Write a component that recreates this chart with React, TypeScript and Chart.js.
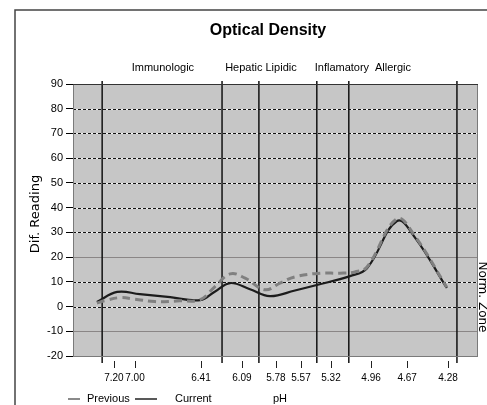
import { useEffect, useRef } from 'react';
import { Chart, registerables } from 'chart.js';
Chart.register(...registerables);

// ---- data ----
const pHLabels = ['7.20', '7.00', '6.41', '6.09', '5.78', '5.57', '5.32', '4.96', '4.67', '4.28'];
const pHPositions = [10.1, 15.3, 31.6, 41.7, 50.1, 56.3, 63.7, 73.6, 82.5, 92.6];
const separatorPositions = [7.2, 36.8, 45.9, 60.2, 68.1, 94.8];
const categoryLabels = ['Immunologic', 'Hepatic Lipidic', 'Inflamatory', 'Allergic'];
const categoryCenters = [22.2, 46.4, 66.4, 79.0];

const currentX = [5.9, 10.9, 16.5, 24.0, 31.4, 35.0, 38.8, 43.7, 48.6, 54.8, 60.2, 68.4, 72.6, 80.0, 84.4, 92.3];
const currentY = [1.8, 5.9, 5.0, 3.8, 2.6, 6.0, 9.5, 7.0, 4.2, 6.5, 8.7, 12.3, 15.5, 34.6, 28.0, 7.5];

const previousX = [5.9, 7.9, 11.6, 15.3, 20.2, 26.4, 31.4, 35.0, 38.8, 42.5, 47.4, 51.1, 54.8, 61.0, 65.9, 69.6, 72.6, 80.0, 84.4, 92.3];
const previousY = [1.4, 2.4, 3.6, 3.0, 2.0, 2.3, 2.8, 8.0, 13.2, 11.5, 6.8, 9.5, 12.0, 13.5, 13.5, 14.0, 16.0, 35.5, 28.5, 7.8];

const yMin = -20;
const yMax = 90;
const yStep = 10;
const dashedGridValues = [80, 70, 60, 50, 40, 30, 10, 0];
const normalZoneValues = [20, -10];

const FONT = "'Liberation Sans', Arial, sans-serif";
const WIDE = "'DejaVu Sans', Verdana, sans-serif";

export default function App() {
  const ref = useRef<HTMLCanvasElement>(null);

  useEffect(() => {
    const canvas = ref.current;
    if (!canvas) return;

    const decor = {
      id: 'decor',
      beforeDatasetsDraw(chart: any) {
        const { ctx, chartArea: a, scales } = chart;
        const x = scales.x;
        const y = scales.y;
        ctx.save();
        ctx.fillStyle = '#c6c6c6';
        ctx.fillRect(a.left, a.top, a.right - a.left, a.bottom - a.top);

        ctx.lineWidth = 1;
        ctx.strokeStyle = '#8a8686';
        normalZoneValues.forEach((v) => {
          const py = Math.round(y.getPixelForValue(v)) + 0.5;
          ctx.beginPath();
          ctx.moveTo(a.left, py);
          ctx.lineTo(a.right, py);
          ctx.stroke();
        });

        dashedGridValues.forEach((v) => {
          const py = Math.round(y.getPixelForValue(v)) + 0.5;
          ctx.setLineDash([]);
          ctx.strokeStyle = '#f2f2f2';
          ctx.beginPath();
          ctx.moveTo(a.left, py);
          ctx.lineTo(a.right, py);
          ctx.stroke();
          ctx.setLineDash([3, 2]);
          ctx.strokeStyle = '#111';
          ctx.beginPath();
          ctx.moveTo(a.left, py);
          ctx.lineTo(a.right, py);
          ctx.stroke();
        });
        ctx.setLineDash([]);

        ctx.strokeStyle = '#111';
        ctx.lineWidth = 1.5;
        separatorPositions.forEach((v) => {
          const px = x.getPixelForValue(v);
          ctx.beginPath();
          ctx.moveTo(px, a.top - 3);
          ctx.lineTo(px, a.bottom + 7);
          ctx.stroke();
        });
        ctx.restore();
      },
      afterDraw(chart: any) {
        const { ctx, chartArea: a, scales } = chart;
        const x = scales.x;
        ctx.save();
        // plot border
        ctx.strokeStyle = '#7a7a7a';
        ctx.lineWidth = 1;
        ctx.strokeRect(a.left + 0.5, a.top + 0.5, a.right - a.left - 1, a.bottom - a.top);
        ctx.strokeStyle = '#333';
        ctx.beginPath();
        ctx.moveTo(a.left, a.top + 0.5);
        ctx.lineTo(a.right, a.top + 0.5);
        ctx.stroke();

        // outer frame
        ctx.strokeStyle = '#444';
        ctx.lineWidth = 1.5;
        ctx.beginPath();
        ctx.moveTo(15, 405);
        ctx.lineTo(15, 10);
        ctx.lineTo(487, 10);
        ctx.stroke();

        // title
        ctx.fillStyle = '#000';
        ctx.textAlign = 'center';
        ctx.textBaseline = 'middle';
        ctx.font = `bold 16px ${FONT}`;
        ctx.fillText('Optical Density', 268, 31);

        // category labels
        ctx.font = `11px ${FONT}`;
        categoryLabels.forEach((t, i) => {
          ctx.fillText(t, x.getPixelForValue(categoryCenters[i]), 68);
        });

        // x tick marks
        ctx.strokeStyle = '#222';
        ctx.lineWidth = 1;
        pHPositions.forEach((v) => {
          const px = Math.round(x.getPixelForValue(v)) + 0.5;
          ctx.beginPath();
          ctx.moveTo(px, a.bottom + 5);
          ctx.lineTo(px, a.bottom + 12);
          ctx.stroke();
        });

        // legend
        const ly = 399;
        ctx.lineWidth = 2;
        ctx.strokeStyle = '#8a8a8a';
        ctx.beginPath();
        ctx.moveTo(68, ly);
        ctx.lineTo(80, ly);
        ctx.stroke();
        ctx.lineWidth = 1.5;
        ctx.strokeStyle = '#222';
        ctx.beginPath();
        ctx.moveTo(135, ly);
        ctx.lineTo(157, ly);
        ctx.stroke();
        ctx.font = `11px ${FONT}`;
        ctx.textAlign = 'left';
        ctx.fillText('Previous', 87, ly);
        ctx.fillText('Current', 175, ly);
        ctx.textAlign = 'center';
        ctx.fillText('pH', 280, ly);

        // y title
        ctx.save();
        ctx.translate(36, 214);
        ctx.rotate(-Math.PI / 2);
        ctx.font = `13px ${WIDE}`;
        ctx.fillText('Dif. Reading', 0, 0);
        ctx.restore();

        // Norm. Zone
        ctx.save();
        ctx.translate(482, 297);
        ctx.rotate(Math.PI / 2);
        ctx.font = `12px ${WIDE}`;
        ctx.fillText('Norm. Zone', 0, 0);
        ctx.restore();

        ctx.restore();
      },
    };

    const chart = new Chart(canvas, {
      type: 'line',
      data: {
        datasets: [
          {
            label: 'Previous',
            data: previousX.map((v, i) => ({ x: v, y: previousY[i] })),
            borderColor: '#808080',
            borderWidth: 3,
            borderDash: [8, 5],
            pointRadius: 0,
            tension: 0.4,
            fill: false,
          },
          {
            label: 'Current',
            data: currentX.map((v, i) => ({ x: v, y: currentY[i] })),
            borderColor: '#1c1c1c',
            borderWidth: 2.2,
            pointRadius: 0,
            tension: 0.4,
            fill: false,
          },
        ],
      },
      options: {
        animation: false,
        responsive: false,
        devicePixelRatio: 1,
        layout: { padding: { top: 84, right: 9, left: 0, bottom: 0 } },
        plugins: {
          legend: { display: false },
          tooltip: { enabled: false },
          title: { display: false },
        },
        scales: {
          x: {
            type: 'linear',
            min: 0,
            max: 100,
            afterBuildTicks: (scale: any) => {
              scale.ticks = pHPositions.map((v) => ({ value: v }));
            },
            afterFit: (scale: any) => {
              scale.height = 49;
            },
            ticks: {
              autoSkip: false,
              maxRotation: 0,
              padding: 8,
              color: '#000',
              font: { family: FONT, size: 10 },
              callback: (_v: any, i: number) => pHLabels[i],
            },
            grid: { display: false },
            border: { display: false },
          },
          y: {
            type: 'linear',
            min: yMin,
            max: yMax,
            afterFit: (scale: any) => {
              scale.width = 73;
            },
            ticks: {
              stepSize: yStep,
              padding: 3,
              color: '#000',
              font: { family: FONT, size: 11 },
            },
            grid: { drawOnChartArea: false, drawTicks: true, tickLength: 7, color: '#000' },
            border: { display: false },
          },
        },
      },
      plugins: [decor],
    });

    return () => chart.destroy();
  }, []);

  return (
    <div style={{ position: 'absolute', left: 0, top: 0, width: 487, height: 405, background: '#fff' }}>
      <canvas ref={ref} width={487} height={405} style={{ display: 'block' }} />
    </div>
  );
}
